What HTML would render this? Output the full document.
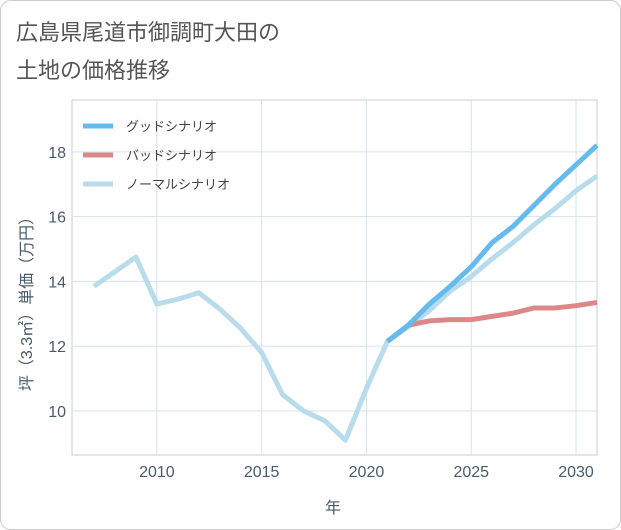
<!DOCTYPE html>
<html><head><meta charset="utf-8"><style>
body{margin:0;background:#fff;}
svg{display:block;font-family:"Liberation Sans","Noto Sans CJK JP",sans-serif;}
</style></head><body>
<svg id="chart" width="621" height="530">
<rect x="0.5" y="0.5" width="620" height="529" rx="10" fill="#fff" stroke="#ccc"/>
<text x="16" y="40" font-size="22" fill="#555">広島県尾道市御調町大田の</text>
<text x="16" y="78" font-size="22" fill="#555">土地の価格推移</text>
<g id="grid"></g><g id="series"></g><g id="legend"></g>
<text x="333" y="513" font-size="16" fill="#4a5a6a" text-anchor="middle">年</text>
<text transform="translate(32,300) rotate(-90)" font-size="16" fill="#4a5a6a" text-anchor="middle">坪（3.3㎡）単価（万円）</text>
</svg>
<script>
const years=[2007,2008,2009,2010,2011,2012,2013,2014,2015,2016,2017,2018,2019,2020,2021,2022,2023,2024,2025,2026,2027,2028,2029,2030,2031];
const normalVals=[13.85,14.3,14.75,13.3,13.45,13.65,13.15,12.55,11.8,10.5,10.0,9.7,9.1,10.7,12.15,12.6,13.1,13.7,14.15,14.7,15.2,15.75,16.25,16.8,17.25];
const goodYears=[2021,2022,2023,2024,2025,2026,2027,2028,2029,2030,2031];
const goodVals=[12.15,12.65,13.3,13.85,14.45,15.2,15.7,16.35,17.0,17.6,18.2];
const badVals=[12.15,12.65,12.78,12.82,12.82,12.92,13.02,13.18,13.18,13.25,13.35];
const xTicks=[2010,2015,2020,2025,2030];
const yTicks=[10,12,14,16,18];
const legendLabels=["グッドシナリオ","バッドシナリオ","ノーマルシナリオ"];
const legendColors=["#66bbee","#dd8888","#b8dcec"];
const L=72,R=597,T=100,B=455,x0=2005.95,x1=2031,y0=8.64,y1=19.6;
const sx=v=>L+(v-x0)/(x1-x0)*(R-L), sy=v=>B-(v-y0)/(y1-y0)*(B-T);
const NS="http://www.w3.org/2000/svg";
function mk(p,t,a){const e=document.createElementNS(NS,t);for(const k in a)e.setAttribute(k,a[k]);p.appendChild(e);return e;}
const g=document.getElementById('grid');
const bg=mk(g,'rect',{x:L,y:T,width:R-L,height:B-T,fill:'#fff',stroke:'#ccc'});

xTicks.forEach(t=>{const l=mk(g,'line',{x1:sx(t),x2:sx(t),y1:T,y2:B,stroke:'#d6e2ea'});

const tx=mk(g,'text',{x:sx(t),y:B+22,'font-size':16,fill:'#4a5a6a','text-anchor':'middle'});tx.textContent=t;
});
yTicks.forEach(t=>{const l=mk(g,'line',{x1:L,x2:R,y1:sy(t),y2:sy(t),stroke:'#d6e2ea'});

const tx=mk(g,'text',{x:L-6,y:sy(t)+6,'font-size':16,fill:'#4a5a6a','text-anchor':'end'});tx.textContent=t;
});
const s=document.getElementById('series');
function line(xs,vs,c,n){const p=mk(s,'polyline',{points:xs.map((y,i)=>sx(y)+','+sy(vs[i])).join(' '),fill:'none',stroke:c,'stroke-width':5,'stroke-linejoin':'round'});
}
line(years,normalVals,legendColors[2],'normal-scenario-line');
line(goodYears,badVals,legendColors[1],'bad-scenario-line');
line(goodYears,goodVals,legendColors[0],'good-scenario-line');
const lg=document.getElementById('legend');
legendLabels.forEach((lb,i)=>{const y=126+i*29;
const l=mk(lg,'line',{x1:83,x2:113,y1:y,y2:y,stroke:legendColors[i],'stroke-width':5});

const t=mk(lg,'text',{x:126,y:y+5,'font-size':13,fill:'#444'});t.textContent=lb;
});
</script>
</body></html>
